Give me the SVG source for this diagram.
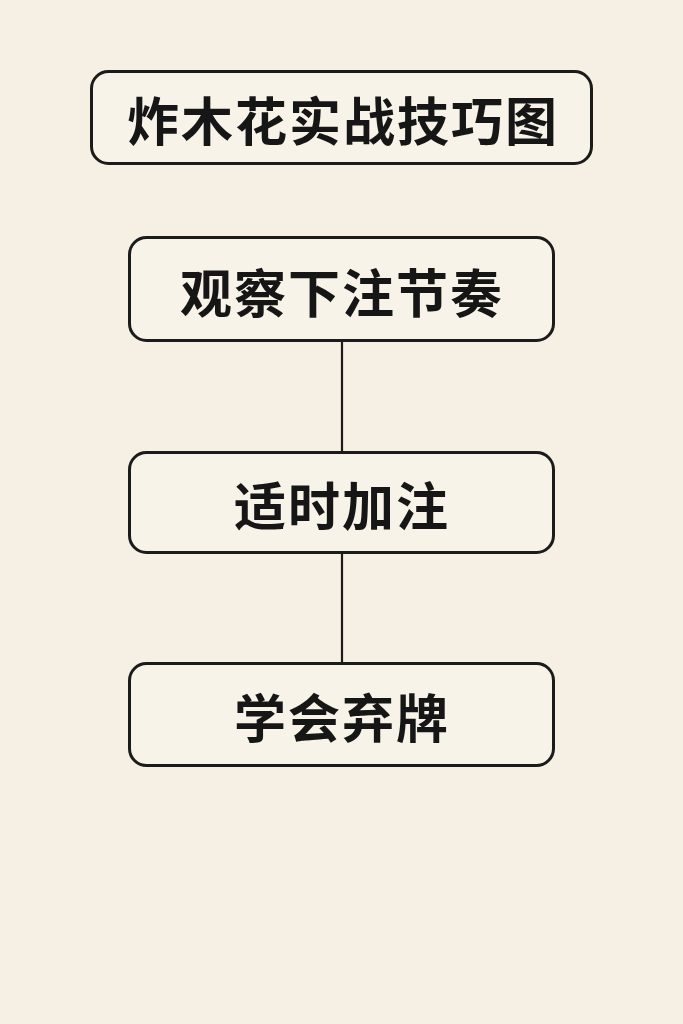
<svg xmlns="http://www.w3.org/2000/svg" width="683" height="1024" viewBox="0 0 683 1024">
<style>
.box{fill:#f8f3e9;stroke:#1b1b1b;stroke-width:3}
.lbl{font-family:"Noto Sans CJK SC","Noto Sans CJK JP",sans-serif;font-weight:700;font-size:52px;fill:#161616;text-anchor:middle;dominant-baseline:central;letter-spacing:2px}
.conn{stroke:#1b1b1b;stroke-width:2.2;fill:none}
</style>
<rect width="683" height="1024" fill="#f6f0e4"/>
<g id="connectors">
<line class="conn" x1="342" y1="341" x2="342" y2="452"/>
<line class="conn" x1="342" y1="553" x2="342" y2="663"/>
</g>
<g id="title">
<rect class="box" x="91.5" y="71.5" width="500" height="92" rx="17"/>
<text class="lbl" x="343" y="118">炸木花实战技巧图</text>
</g>
<g id="n1">
<rect class="box" x="129.5" y="237.5" width="424" height="103" rx="17"/>
<text class="lbl" x="342" y="290">观察下注节奏</text>
</g>
<g id="n2">
<rect class="box" x="129.5" y="452.5" width="424" height="100" rx="17"/>
<text class="lbl" x="342" y="503">适时加注</text>
</g>
<g id="n3">
<rect class="box" x="129.5" y="663.5" width="424" height="102" rx="17"/>
<text class="lbl" x="342" y="715">学会弃牌</text>
</g>
</svg>
